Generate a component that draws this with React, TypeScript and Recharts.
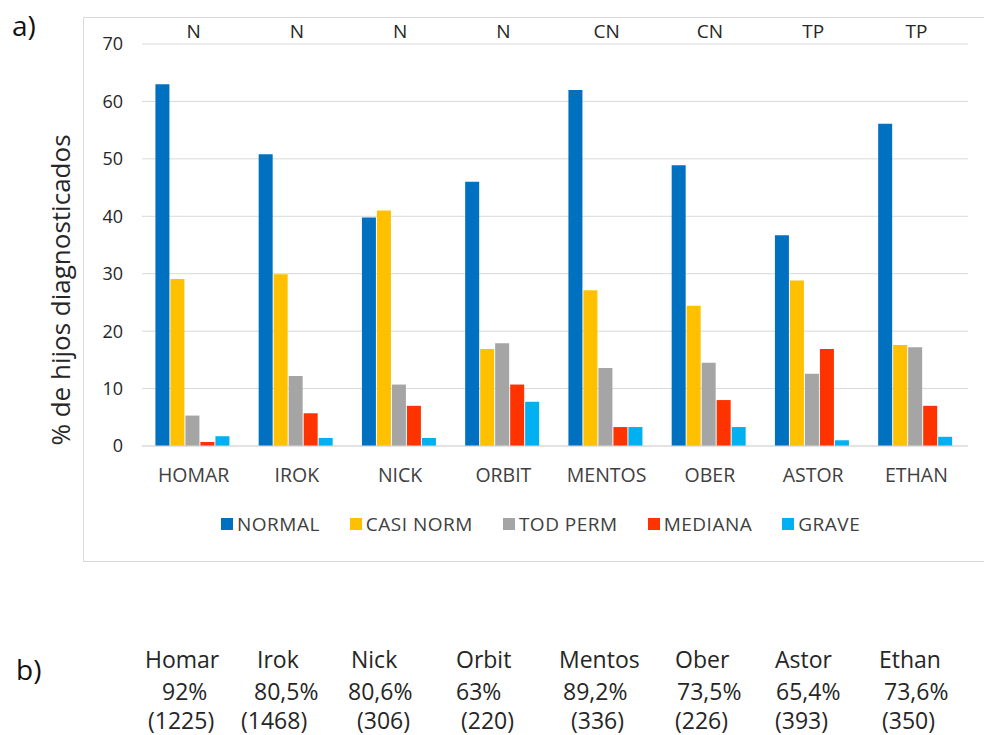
import React from 'react';
import {
  BarChart,
  Bar,
  XAxis,
  YAxis,
  CartesianGrid,
  Legend
} from 'recharts';

const categories = ['HOMAR', 'IROK', 'NICK', 'ORBIT', 'MENTOS', 'OBER', 'ASTOR', 'ETHAN'];
const groups = ['N', 'N', 'N', 'N', 'CN', 'CN', 'TP', 'TP'];

const normal = [63.0, 50.8, 39.8, 46.0, 62.0, 48.9, 36.7, 56.1];
const casiNorm = [29.1, 29.9, 41.0, 16.9, 27.1, 24.4, 28.8, 17.6];
const todPerm = [5.3, 12.2, 10.7, 17.9, 13.6, 14.5, 12.6, 17.2];
const mediana = [0.7, 5.7, 7.0, 10.7, 3.3, 8.0, 16.9, 7.0];
const grave = [1.7, 1.4, 1.4, 7.7, 3.3, 3.3, 1.0, 1.6];

const yTicks = [0, 10, 20, 30, 40, 50, 60, 70];

// tabla b)
const tableNames = ['Homar', 'Irok', 'Nick', 'Orbit', 'Mentos', 'Ober', 'Astor', 'Ethan'];
const tablePct = ['92%', '80,5%', '80,6%', '63%', '89,2%', '73,5%', '65,4%', '73,6%'];
const tableN = ['(1225)', '(1468)', '(306)', '(220)', '(336)', '(226)', '(393)', '(350)'];
const nameLeft = [145, 257, 351, 456, 559, 675, 775, 879];
const pctLeft = [162, 254, 348, 456, 563, 677, 776, 884];
const countLeft = [148, 241, 357, 461, 571, 675, 775, 882];

const series = [
  { key: 'normal', label: 'NORMAL', color: '#0070c0' },
  { key: 'casiNorm', label: 'CASI NORM', color: '#ffc000' },
  { key: 'todPerm', label: 'TOD PERM', color: '#a5a5a5' },
  { key: 'mediana', label: 'MEDIANA', color: '#ff3300' },
  { key: 'grave', label: 'GRAVE', color: '#00b0f0' }
];

const data = categories.map((name, i) => ({
  name,
  group: groups[i],
  normal: normal[i],
  casiNorm: casiNorm[i],
  todPerm: todPerm[i],
  mediana: mediana[i],
  grave: grave[i]
}));

const FONT = '"Open Sans", sans-serif';

const LegendBox = () => (
  <div style={{ height: 36, display: 'flex', alignItems: 'center', paddingLeft: 221, fontFamily: FONT, fontSize: 19, color: '#404040' }}>
    {series.map((s) => (
      <div key={s.key} style={{ display: 'flex', alignItems: 'center', marginRight: 30 }}>
        <span style={{ width: 12, height: 12, background: s.color, display: 'inline-block', marginRight: 4 }} />
        <span style={{ letterSpacing: 0.5 }}>{s.label}</span>
      </div>
    ))}
  </div>
);

const cellStyle = { position: 'absolute' as const, fontSize: 23, lineHeight: '23px', color: '#262626', whiteSpace: 'nowrap' as const };

const App: React.FC = () => {
  return (
    <div style={{ position: 'absolute', left: 0, top: 0, width: 984, height: 735, background: '#fff', overflow: 'hidden', fontFamily: FONT }}>
      <div style={{ position: 'absolute', left: 83, top: 17, width: 920, height: 545, border: '1px solid #d9d9d9', boxSizing: 'border-box' }} />
      <div style={{ position: 'absolute', left: 12, top: 6, fontSize: 28, color: '#111' }}>a)</div>
      <div style={{ position: 'absolute', left: 0, top: 0 }}>
        <BarChart
          width={984}
          height={562}
          data={data}
          margin={{ top: 0, right: 16, left: 0, bottom: 20 }}
          barCategoryGap="13%"
          barGap={1}
        >
          <CartesianGrid vertical={false} stroke="#d9d9d9" />
          <XAxis
            dataKey="name"
            height={60}
            interval={0}
            tickLine={false}
            tickSize={0}
            tickMargin={22}
            axisLine={{ stroke: '#d9d9d9' }}
            tick={{ fontFamily: FONT, fontSize: 19.5, fill: '#404040' }}
          />
          <XAxis
            xAxisId="top"
            orientation="top"
            dataKey="group"
            height={44}
            interval={0}
            tickLine={false}
            tickSize={0}
            tickMargin={6}
            axisLine={false}
            tick={{ fontFamily: FONT, fontSize: 19, fill: '#262626' }}
          />
          <YAxis
            width={142}
            domain={[0, 70]}
            ticks={yTicks}
            interval={0}
            tickLine={false}
            axisLine={false}
            tickSize={0}
            tickMargin={19}
            tick={{ fontFamily: FONT, fontSize: 18, fill: '#262626' }}
            label={{
              content: () => (
                <text
                  x={60}
                  y={290}
                  transform="rotate(-90 60 290)"
                  textAnchor="middle"
                  dominantBaseline="central"
                  fontFamily={FONT}
                  fontSize={26}
                  fill="#262626"
                >
                  % de hijos diagnosticados
                </text>
              )
            }}
          />
          <Legend verticalAlign="bottom" align="left" content={() => <LegendBox />} />
          {series.map((s) => (
            <Bar key={s.key} dataKey={s.key} name={s.label} fill={s.color} isAnimationActive={false} />
          ))}
        </BarChart>
      </div>

      <div style={{ position: 'absolute', left: 16, top: 650, fontSize: 28, color: '#111' }}>b)</div>
      {tableNames.map((t, i) => (
        <div key={'n' + i} style={{ ...cellStyle, left: nameLeft[i], top: 648 }}>{t}</div>
      ))}
      {tablePct.map((t, i) => (
        <div key={'p' + i} style={{ ...cellStyle, left: pctLeft[i], top: 680 }}>{t}</div>
      ))}
      {tableN.map((t, i) => (
        <div key={'c' + i} style={{ ...cellStyle, left: countLeft[i], top: 709 }}>{t}</div>
      ))}
    </div>
  );
};

export default App;
